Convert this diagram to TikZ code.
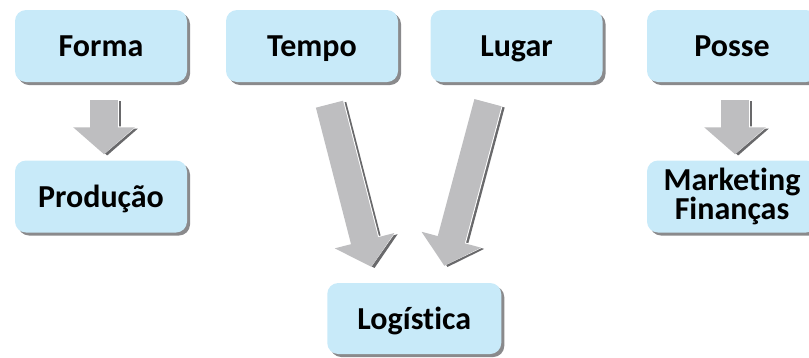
\documentclass[tikz,border=0pt]{standalone}
\usepackage{fontspec}
\setmainfont{Carlito}[Ligatures=CommonOff]
\usetikzlibrary{calc,positioning,arrows.meta,shadows}
\definecolor{boxblue}{RGB}{200,234,249}
\definecolor{boxshadow}{RGB}{138,138,140}
\definecolor{arrowgray}{RGB}{190,190,192}
\definecolor{arrowdark}{RGB}{105,105,107}
\tikzset{
  box/.style={
    rectangle,
    rounded corners=11pt,
    fill=boxblue,
    draw=none,
    minimum width=172pt,
    minimum height=72pt,
    font=\bfseries\fontsize{32}{27}\selectfont,
    align=center,
    drop shadow={shadow xshift=3pt, shadow yshift=-3pt, fill=boxshadow, opacity=1}},
  onebox/.style={box, text height=21pt, text depth=0pt},
  arrowshade/.style={draw=arrowdark, line width=28pt,
    -{Triangle[length=27pt,width=60pt]},
    transform canvas={shift={(3.2pt,-1.2pt)}}},
  arrowedge/.style={draw=white, line width=30pt,
    -{Triangle[length=28pt,width=64pt]}},
  blockarrow/.style={draw=arrowgray, line width=28pt,
    -{Triangle[length=27pt,width=60pt]}},
}
\newcommand\grayarrow[3]{%
  \draw[arrowshade, #1] #2 -- #3;
  \draw[arrowedge, #1] #2 -- #3;
  \draw[blockarrow, #1] #2 -- #3;}
\begin{document}
\begin{tikzpicture}[x=1pt,y=1pt]
\useasboundingbox (0,0) rectangle (809,-357);

\node[onebox] (forma) at (101,-46) {Forma};
\node[onebox, right of=forma, node distance=211pt] (tempo) {Tempo};
\node[onebox, right of=tempo, node distance=204.5pt] (lugar) {Lugar};
\node[onebox, right of=lugar, node distance=215.5pt, minimum width=170pt] (posse) {Posse};

\node[onebox, below of=forma, node distance=150.5pt] (producao) {Produção};
\node[box, below of=posse, node distance=150.5pt, minimum width=170pt] (marketing) {Marketing\\Finanças};

\node[onebox, minimum width=174pt, minimum height=71pt] (logistica)
  at ($(tempo)!0.5!(lugar)+(0,-272.5)$) {Logística};

% setas
\grayarrow{shorten <=18pt, shorten >=6pt}{([xshift=3pt]forma.south)}{([xshift=3pt]producao.north)}
\grayarrow{shorten <=22.7pt, shorten >=16.5pt}{([xshift=11.8pt]tempo.south)}{([xshift=-38.8pt]logistica.north)}
\grayarrow{shorten <=21.2pt, shorten >=17.6pt}{([xshift=-23.1pt]lugar.south)}{([xshift=25.5pt]logistica.north)}
\grayarrow{shorten <=18pt, shorten >=6pt}{([xshift=3pt]posse.south)}{([xshift=3pt]marketing.north)}

\end{tikzpicture}
\end{document}
